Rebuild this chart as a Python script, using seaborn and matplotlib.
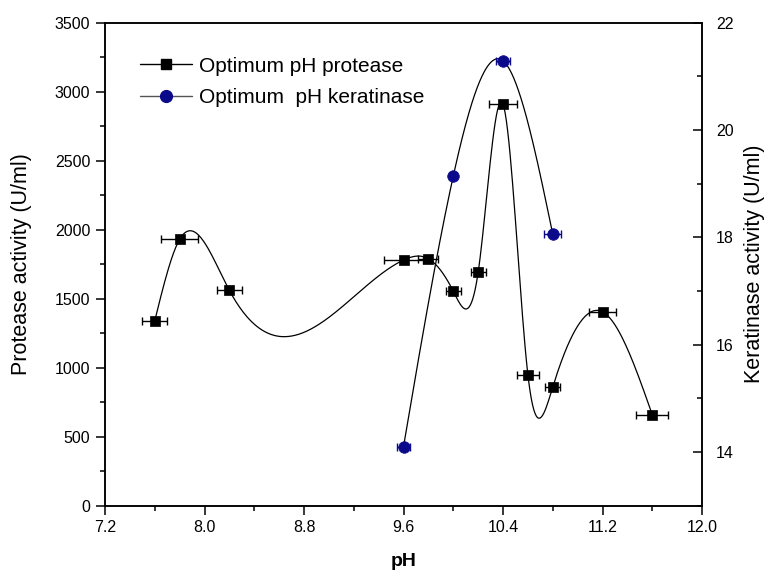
import numpy as np
import pandas as pd
import matplotlib
matplotlib.use("Agg")
import matplotlib.pyplot as plt
import seaborn as sns
from matplotlib.lines import Line2D
from matplotlib.ticker import MultipleLocator, FixedLocator

# ---- data ----
ph_protease = [7.6, 7.8, 8.2, 9.6, 9.8, 10.0, 10.2, 10.4, 10.6, 10.8, 11.2, 11.6]
protease = [1340, 1930, 1560, 1780, 1790, 1555, 1690, 2910, 950, 860, 1405, 660]
protease_xerr = [0.10, 0.15, 0.10, 0.16, 0.08, 0.06, 0.06, 0.11, 0.09, 0.06, 0.11, 0.13]

ph_keratinase = [9.6, 10.0, 10.4, 10.8]
keratinase = [14.1, 19.14, 21.29, 18.06]
keratinase_xerr = [0.05, 0.02, 0.06, 0.07]

x_ticks = [7.2, 8.0, 8.8, 9.6, 10.4, 11.2, 12.0]
x_tick_labels = ["7.2", "8.0", "8.8", "9.6", "10.4", "11.2", "12.0"]


def natural_spline(x, y, n=400):
    x = np.asarray(x, float)
    y = np.asarray(y, float)
    k = len(x)
    h = np.diff(x)
    A = np.zeros((k, k))
    b = np.zeros(k)
    A[0, 0] = 1
    A[-1, -1] = 1
    for i in range(1, k - 1):
        A[i, i - 1] = h[i - 1]
        A[i, i] = 2 * (h[i - 1] + h[i])
        A[i, i + 1] = h[i]
        b[i] = 6 * ((y[i + 1] - y[i]) / h[i] - (y[i] - y[i - 1]) / h[i - 1])
    M = np.linalg.solve(A, b)
    xs = np.linspace(x[0], x[-1], n)
    idx = np.clip(np.searchsorted(x, xs) - 1, 0, k - 2)
    x0, x1 = x[idx], x[idx + 1]
    hh = x1 - x0
    t1 = x1 - xs
    t0 = xs - x0
    ys = (M[idx] * t1 ** 3 / (6 * hh) + M[idx + 1] * t0 ** 3 / (6 * hh)
          + (y[idx] / hh - M[idx] * hh / 6) * t1
          + (y[idx + 1] / hh - M[idx + 1] * hh / 6) * t0)
    return xs, ys


sns.set_theme(style="ticks")
plt.rcParams["font.family"] = ["Liberation Sans", "DejaVu Sans"]
plt.rcParams["axes.linewidth"] = 1.1
plt.rcParams["text.color"] = "black"
plt.rcParams["axes.labelcolor"] = "black"
plt.rcParams["xtick.color"] = "black"
plt.rcParams["ytick.color"] = "black"
plt.rcParams["axes.edgecolor"] = "black"

fig = plt.figure(figsize=(7.68, 5.75), dpi=100)
ax = fig.add_axes([105 / 768, 1 - 505.7 / 575, (702 - 105) / 768, (505.7 - 22.7) / 575])
ax2 = ax.twinx()

navy = "#0a0a8a"

# protease
pxs, pys = natural_spline(ph_protease, protease)
sns.lineplot(x=pxs, y=pys, ax=ax, color="black", lw=0.9, legend=False, sort=False)
ax.errorbar(ph_protease, protease, xerr=protease_xerr, fmt="none", ecolor="black",
            elinewidth=1.0, capsize=3, capthick=1.0, zorder=3)
sns.scatterplot(x=ph_protease, y=protease, ax=ax, marker="s", s=55, color="black",
                edgecolor="black", linewidth=0.5, zorder=4, legend=False)

# keratinase
kxs, kys = natural_spline(ph_keratinase, keratinase)
sns.lineplot(x=kxs, y=kys, ax=ax2, color="black", lw=0.9, legend=False, sort=False)
ax2.errorbar(ph_keratinase, keratinase, xerr=keratinase_xerr, fmt="none", ecolor=navy,
             elinewidth=1.0, capsize=3, capthick=1.0, zorder=3)
sns.scatterplot(x=ph_keratinase, y=keratinase, ax=ax2, marker="o", s=70, color=navy,
                edgecolor=navy, linewidth=0.5, zorder=4, legend=False)

# axes
ax.set_xlim(7.2, 12.0)
ax.xaxis.set_major_locator(FixedLocator(x_ticks))
ax.set_xticklabels(x_tick_labels)
ax.xaxis.set_minor_locator(MultipleLocator(0.4))
ax.set_ylim(0, 3500)
ax.yaxis.set_major_locator(MultipleLocator(500))
ax.yaxis.set_minor_locator(MultipleLocator(250))
ax2.set_ylim(13, 22)
ax2.yaxis.set_major_locator(MultipleLocator(2))
ax2.yaxis.set_minor_locator(MultipleLocator(1))

ax.tick_params(axis="both", which="major", direction="out", length=6.5, width=1.1,
               labelsize=11.5, pad=4, colors="black", top=False, right=False)
ax.tick_params(axis="both", which="minor", direction="out", length=3.3, width=1.1,
               top=False, right=False)
ax.tick_params(axis="x", which="major", pad=4)
ax2.tick_params(axis="y", which="major", direction="in", length=6.5, width=1.1,
                labelsize=11.5, pad=10, colors="black")
ax2.tick_params(axis="y", which="minor", direction="in", length=3.3, width=1.1)

ax.set_xlabel("pH", fontsize=14, fontweight="bold", labelpad=13, color="black")
ax.set_ylabel("Protease activity (U/ml)", fontsize=15.5, color="black")
ax.yaxis.set_label_coords(-0.122, 0.5)
ax2.set_ylabel("Keratinase activity (U/ml)", fontsize=15.5, rotation=90, color="black")
ax2.yaxis.set_label_coords(1.07, 0.5)

for a in (ax, ax2):
    for s in a.spines.values():
        s.set_color("black")
        s.set_linewidth(1.1)

handles = [
    Line2D([0], [0], color="black", lw=1.0, marker="s", markersize=7.5,
           markerfacecolor="black", markeredgecolor="black"),
    Line2D([0], [0], color="#555555", lw=1.0, marker="o", markersize=8.5,
           markerfacecolor=navy, markeredgecolor=navy),
]
leg = ax2.legend(handles, ["Optimum pH protease", "Optimum  pH keratinase"],
                 loc="upper left", bbox_to_anchor=(0.058, 0.93), frameon=False,
                 fontsize=15, handlelength=2.5, handletextpad=0.35, labelspacing=0.6,
                 borderpad=0, borderaxespad=0)
for t in leg.get_texts():
    t.set_color("black")

fig.savefig("out.png", dpi=100)
